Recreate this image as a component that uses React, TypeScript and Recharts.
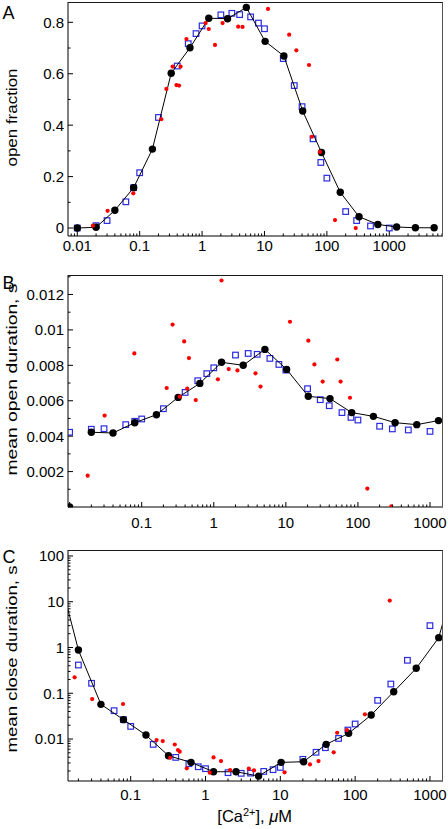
import React from 'react';
import { ScatterChart, Scatter, XAxis, YAxis, CartesianGrid } from 'recharts';

// ---------------- data ----------------
const blackConc = [0.01, 0.02, 0.04, 0.08, 0.16, 0.32, 0.64, 1.28, 2.56, 5.12, 10.24, 20.48, 40.96, 81.92, 163.84, 327.68, 655.36, 1310.72, 2621.44, 5242.88];
const blackOpenFraction = [0, 0.003, 0.069, 0.157, 0.307, 0.602, 0.701, 0.816, 0.814, 0.858, 0.726, 0.669, 0.455, 0.294, 0.139, 0.044, 0.014, 0.004, 0.001, 0.001];
const blackOpenDuration = [0, 0.00422, 0.00418, 0.00476, 0.00521, 0.00619, 0.00698, 0.00817, 0.008, 0.0089, 0.00777, 0.00625, 0.00612, 0.00533, 0.00512, 0.00476, 0.00465, 0.00488, null, null];
const blackCloseDuration = [71, 0.88, 0.0573, 0.0265, 0.0122, 0.00432, 0.00309, 0.00193, 0.00193, 0.00155, 0.00309, 0.00319, 0.00764, 0.0133, 0.0335, 0.108, 0.351, 1.64, 100, null];

const blueConc = [0.01, 0.02, 0.03, 0.06, 0.08, 0.1, 0.2, 0.4, 0.6, 0.8, 1, 2, 3, 4, 6, 8, 10, 20, 30, 40, 60, 80, 100, 200, 300, 500, 1000];
const blueOpenFraction = [0, 0.009, 0.029, 0.102, 0.157, 0.215, 0.43, 0.63, 0.717, 0.756, 0.786, 0.829, 0.835, 0.83, 0.821, 0.797, 0.775, 0.659, 0.554, 0.472, 0.347, 0.255, 0.194, 0.064, 0.029, 0.008, 0.0];
const blueOpenDuration = [0.00422, 0.00439, 0.00442, 0.00465, 0.00484, 0.00497, 0.00555, 0.00647, 0.00713, 0.00753, 0.00786, 0.00858, 0.00867, 0.00862, 0.00839, 0.00805, 0.00773, 0.00668, 0.00606, 0.00572, 0.00533, 0.00506, 0.00491, 0.00456, 0.00441, 0.00435, 0.00427];
const blueCloseDuration = [null, 0.414, 0.165, 0.0416, 0.0265, 0.0189, 0.00764, 0.00397, 0.00289, 0.00248, 0.00225, 0.00184, 0.00178, 0.0018, 0.00196, 0.00214, 0.0024, 0.0036, 0.00513, 0.00646, 0.0103, 0.0157, 0.0213, 0.07, 0.159, 0.525, 3.0];

const redConc = [0.0178, 0.0306, 0.079, 0.222, 0.268, 0.337, 0.388, 0.428, 0.452, 0.562, 1.14, 1.28, 1.61, 2.13, 3.79, 4.45, 11.4, 20.5, 24.9, 32.4, 51.7, 57.5, 77.5, 135, 290];
const redOpenFraction = [0.009, 0.067, 0.135, 0.423, 0.541, 0.628, 0.556, 0.554, 0.628, 0.735, 0.797, 0.774, 0.712, 0.797, 0.783, 0.782, 0.852, null, 0.752, 0.691, 0.634, 0.355, 0.296, 0.031, 0.0];
const redOpenDuration = [0.00177, 0.00516, 0.00867, 0.00672, 0.0103, 0.00623, 0.00935, 0.00668, 0.00841, 0.00604, 0.00721, 0.01279, 0.00779, 0.00771, 0.00755, 0.0068, 0.01046, 0.00939, 0.00805, 0.00708, 0.00833, 0.00708, 0.00617, 0.00104, 0.00003];
const redCloseDuration = [0.223, 0.0748, 0.0582, 0.0095, 0.009, 0.0039, 0.0076, 0.00575, 0.00529, 0.00229, 0.00184, 0.00397, 0.0033, 0.0021, 0.00225, 0.00206, 0.00187, null, 0.00279, 0.0033, 0.00513, 0.0137, 0.0157, 0.0346, 10.6];

// tick labels
const xMajorsA = [0.01, 0.1, 1, 10, 100, 1000];
const xLabelsA = ['0.01', '0.1', '1', '10', '100', '1000'];
const xMajorsBC = [0.1, 1, 10, 100, 1000];
const xLabelsBC = ['0.1', '1', '10', '100', '1000'];
const yMajorsA = [0, 0.2, 0.4, 0.6, 0.8];
const yLabelsA = ['0', '0.2', '0.4', '0.6', '0.8'];
const yMinorsA = [0.1, 0.3, 0.5, 0.7];
const yMajorsB = [0, 0.002, 0.004, 0.006, 0.008, 0.01, 0.012];
const yLabelsB = ['', '0.002', '0.004', '0.006', '0.008', '0.01', '0.012'];
const yMinorsB = [0.001, 0.003, 0.005, 0.007, 0.009, 0.011, 0.013];
const yMajorsC = [0.01, 0.1, 1, 10, 100];
const yLabelsC = ['0.01', '0.1', '1', '10', '100'];

// ---------------- helpers ----------------
type Pt = { x: number; y: number };
const pts = (xs: number[], ys: (number | null)[]): Pt[] =>
  xs.map((x, i) => ({ x, y: ys[i] as number })).filter((p) => p.y !== null && p.y !== undefined);

const logMinors = (lo: number, hi: number) => {
  const out: number[] = [];
  for (let e = Math.floor(Math.log10(lo)); e <= Math.ceil(Math.log10(hi)); e++) {
    for (let k = 2; k <= 9; k++) {
      const v = k * Math.pow(10, e);
      if (v >= lo && v <= hi) out.push(v);
    }
  }
  return out;
};

const FONT = '"Liberation Sans", Arial, Helvetica, sans-serif';
const findIdx = (arr: number[], v: number) =>
  arr.findIndex((m) => Math.abs(m - v) <= 1e-9 * Math.max(1e-6, Math.abs(m)) + 1e-12);

const makeXTick = (majors: number[], labels: string[], labelDy: number) => (props: any) => {
  const { x, y, payload } = props;
  const i = findIdx(majors, payload.value);
  const major = i >= 0;
  return (
    <g>
      <line x1={x} x2={x} y1={y} y2={y - (major ? 5 : 2.5)} stroke="#000" strokeWidth={1} />
      {major && labels[i] ? (
        <text x={x} y={y + labelDy} textAnchor="middle" fontSize={15} fontFamily={FONT} fill="#000">
          {labels[i]}
        </text>
      ) : null}
    </g>
  );
};

const makeYTick = (majors: number[], labels: string[]) => (props: any) => {
  const { x, y, payload } = props;
  const i = findIdx(majors, payload.value);
  const major = i >= 0;
  return (
    <g>
      <line x1={x} x2={x + (major ? 5 : 2.5)} y1={y} y2={y} stroke="#000" strokeWidth={1} />
      {major && labels[i] ? (
        <text x={x - 4} y={y} dy="0.36em" textAnchor="end" fontSize={15} fontFamily={FONT} fill="#000">
          {labels[i]}
        </text>
      ) : null}
    </g>
  );
};

const BlackDot = (p: any) => <circle cx={p.cx} cy={p.cy} r={3.7} fill="#000" />;
const BlueSquare = (p: any) => (
  <rect x={p.cx - 2.8} y={p.cy - 2.8} width={5.6} height={5.6} fill="none" stroke="#2b2be0" strokeWidth={1.2} />
);
const RedDot = (p: any) => <circle cx={p.cx} cy={p.cy} r={2.1} fill="#ff0000" />;

const CHART_W = 448;
const RIGHT_MARGIN = 5;
const PLOT_LEFT = 68;
const PLOT_RIGHT = CHART_W - RIGHT_MARGIN;
const PLOT_TOPS: Record<string, number> = { A: 2, B: 5, C: 5 };
const PLOT_BOTTOMS: Record<string, number> = { A: 236, B: 237, C: 236 };
const PANEL_OFFSETS: Record<string, number> = { A: 0, B: 270, C: 545 };

// Y-axis label: panel letter and rotated axis title
const PanelLabels = (props: any) => {
  const { letter, letterY, axisTitle, titleY, titleLen } = props;
  return (
    <g>
      <text x={2.5} y={letterY} fontSize={18} fontFamily={FONT} fill="#000">
        {letter}
      </text>
      <text
        x={11.5}
        y={titleY}
        transform={`rotate(-90 11.5 ${titleY})`}
        textAnchor="middle"
        dominantBaseline="central"
        fontSize={15.5}
        fontFamily={FONT}
        fill="#000"
        textLength={titleLen}
        lengthAdjust="spacingAndGlyphs"
      >
        {axisTitle}
      </text>
    </g>
  );
};

const XLabelC = () => (
  <text x={254.7} y={277.3} textAnchor="middle" fontSize={16.5} fontFamily={FONT} fill="#000">
    [Ca
    <tspan dy={-6} fontSize={11}>2+</tspan>
    <tspan dy={6}>], </tspan>
    <tspan fontStyle="italic">μ</tspan>
    <tspan>M</tspan>
  </text>
);

// ---------------- panels ----------------
const domA: [number, number] = [0.0071, 7260];
const domB: [number, number] = [0.00949, 1514];
const domC: [number, number] = [0.01452, 1494];
const yDomA: [number, number] = [-0.031, 0.879];
const yDomB: [number, number] = [0, 0.0131];
const yDomC: [number, number] = [0.00121, 135];

const blackA = pts(blackConc, blackOpenFraction);
const blueA = pts(blueConc, blueOpenFraction);
const redA = pts(redConc, redOpenFraction);

const blackBAll = pts(blackConc, blackOpenDuration);
const blackBLine = blackBAll.filter((p) => p.y > 0);
const blackBZero = blackBAll.filter((p) => p.y === 0);
const blueB = pts(blueConc, blueOpenDuration);
const redB = pts(redConc, redOpenDuration);

const blackC = pts(blackConc, blackCloseDuration);
const blueC = pts(blueConc, blueCloseDuration);
const redC = pts(redConc, redCloseDuration);

// top and right edges of the plot box
const frameGrid = (letter: string) => (
  <CartesianGrid
    xAxisId="b"
    yAxisId="l"
    horizontalPoints={[PLOT_TOPS[letter] + 0.5]}
    verticalPoints={[PLOT_RIGHT - 0.5]}
    stroke="#222"
    strokeWidth={1}
    fill="none"
  />
);

// css fallback for the same box edges
const FrameBox = ({ letter }: { letter: string }) => (
  <div
    style={{
      position: 'absolute',
      left: PLOT_LEFT,
      top: PANEL_OFFSETS[letter] + PLOT_TOPS[letter],
      width: PLOT_RIGHT - PLOT_LEFT,
      height: PLOT_BOTTOMS[letter] - PLOT_TOPS[letter],
      boxSizing: 'border-box',
      borderTop: '1px solid #1a1a1a',
      borderRight: '1px solid #555',
      pointerEvents: 'none',
    }}
  />
);

export default function App() {
  return (
    <div style={{ position: 'absolute', left: 0, top: 0, width: 448, height: 829, background: '#fff' }}>
      {/* Panel A */}
      <div style={{ position: 'absolute', left: 0, top: 0 }}>
        <ScatterChart width={CHART_W} height={270} margin={{ top: 2, right: RIGHT_MARGIN, bottom: 0, left: 0 }}>
          {frameGrid('A')}
          <XAxis
            xAxisId="b"
            type="number"
            dataKey="x"
            scale="log"
            domain={domA}
            allowDataOverflow
            ticks={[...xMajorsA, ...logMinors(domA[0], domA[1])]}
            interval={0}
            tickSize={0}
            tickMargin={0}
            tick={makeXTick(xMajorsA, xLabelsA, 15)}
            height={34}
            axisLine={{ stroke: '#000' }}
          />
          <YAxis
            yAxisId="l"
            type="number"
            dataKey="y"
            domain={yDomA}
            allowDataOverflow
            ticks={[...yMajorsA, ...yMinorsA]}
            interval={0}
            tickSize={0}
            tickMargin={0}
            width={68}
            tick={makeYTick(yMajorsA, yLabelsA)}
            axisLine={{ stroke: '#000' }}
            label={<PanelLabels letter="A" letterY={19.3} axisTitle="open fraction" titleY={117.5} titleLen={98} />}
          />
          <Scatter xAxisId="b" yAxisId="l" data={blueA} shape={BlueSquare} isAnimationActive={false} />
          <Scatter xAxisId="b" yAxisId="l" data={blackA} fill="#000" line={{ stroke: '#000', strokeWidth: 1 }} lineType="joint" shape={BlackDot} isAnimationActive={false} />
          <Scatter xAxisId="b" yAxisId="l" data={redA} shape={RedDot} isAnimationActive={false} />
        </ScatterChart>
      </div>
      <FrameBox letter="A" />

      {/* Panel B */}
      <div style={{ position: 'absolute', left: 0, top: 270 }}>
        <ScatterChart width={CHART_W} height={275} margin={{ top: 5, right: RIGHT_MARGIN, bottom: 0, left: 0 }}>
          {frameGrid('B')}
          <XAxis
            xAxisId="b"
            type="number"
            dataKey="x"
            scale="log"
            domain={domB}
            allowDataOverflow
            ticks={[0.01, ...xMajorsBC, ...logMinors(domB[0], domB[1])]}
            interval={0}
            tickSize={0}
            tickMargin={0}
            tick={makeXTick([0.01, ...xMajorsBC], ['', ...xLabelsBC], 21)}
            height={38}
            axisLine={{ stroke: '#000' }}
          />
          <YAxis
            yAxisId="l"
            type="number"
            dataKey="y"
            domain={yDomB}
            allowDataOverflow
            ticks={[...yMajorsB, ...yMinorsB]}
            interval={0}
            tickSize={0}
            tickMargin={0}
            width={68}
            tick={makeYTick(yMajorsB, yLabelsB)}
            axisLine={{ stroke: '#000' }}
            label={<PanelLabels letter="B" letterY={19.3} axisTitle="mean open duration, s" titleY={109.5} titleLen={192} />}
          />
          <Scatter xAxisId="b" yAxisId="l" data={blueB} shape={BlueSquare} isAnimationActive={false} />
          <Scatter xAxisId="b" yAxisId="l" data={blackBLine} fill="#000" line={{ stroke: '#000', strokeWidth: 1 }} lineType="joint" shape={BlackDot} isAnimationActive={false} />
          <Scatter xAxisId="b" yAxisId="l" data={blackBZero} shape={BlackDot} isAnimationActive={false} />
          <Scatter xAxisId="b" yAxisId="l" data={redB} shape={RedDot} isAnimationActive={false} />
        </ScatterChart>
      </div>
      <FrameBox letter="B" />

      {/* Panel C */}
      <div style={{ position: 'absolute', left: 0, top: 545 }}>
        <ScatterChart width={CHART_W} height={284} margin={{ top: 5, right: RIGHT_MARGIN, bottom: 0, left: 0 }}>
          {frameGrid('C')}
          <XAxis
            xAxisId="b"
            type="number"
            dataKey="x"
            scale="log"
            domain={domC}
            allowDataOverflow
            ticks={[...xMajorsBC, ...logMinors(domC[0], domC[1])]}
            interval={0}
            tickSize={0}
            tickMargin={0}
            tick={makeXTick(xMajorsBC, xLabelsBC, 19)}
            height={48}
            axisLine={{ stroke: '#000' }}
            label={<XLabelC />}
          />
          <YAxis
            yAxisId="l"
            type="number"
            dataKey="y"
            scale="log"
            domain={yDomC}
            allowDataOverflow
            ticks={[...yMajorsC, ...logMinors(yDomC[0], yDomC[1])]}
            interval={0}
            tickSize={0}
            tickMargin={0}
            width={68}
            tick={makeYTick(yMajorsC, yLabelsC)}
            axisLine={{ stroke: '#000' }}
            label={<PanelLabels letter="C" letterY={18.3} axisTitle="mean close duration, s" titleY={114} titleLen={187} />}
          />
          <Scatter xAxisId="b" yAxisId="l" data={blueC} shape={BlueSquare} isAnimationActive={false} />
          <Scatter xAxisId="b" yAxisId="l" data={blackC} fill="#000" line={{ stroke: '#000', strokeWidth: 1 }} lineType="joint" shape={BlackDot} isAnimationActive={false} />
          <Scatter xAxisId="b" yAxisId="l" data={redC} shape={RedDot} isAnimationActive={false} />
        </ScatterChart>
      </div>
      <FrameBox letter="C" />
    </div>
  );
}
